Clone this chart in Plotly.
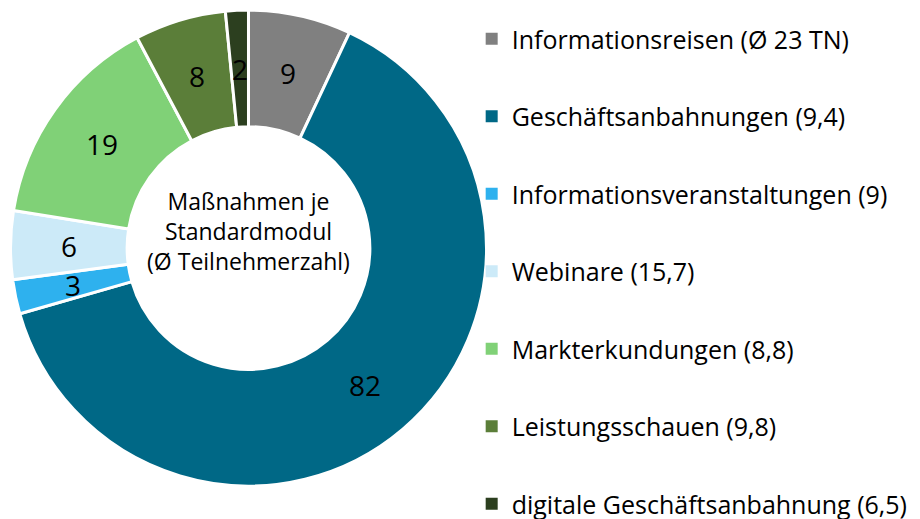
import math
import plotly.graph_objects as go

labels = [
    "Informationsreisen (Ø 23 TN)",
    "Geschäftsanbahnungen (9,4)",
    "Informationsveranstaltungen (9)",
    "Webinare (15,7)",
    "Markterkundungen (8,8)",
    "Leistungsschauen (9,8)",
    "digitale Geschäftsanbahnung (6,5)",
]
values = [9, 82, 3, 6, 19, 8, 2]
colors = ["#808080", "#006886", "#2EB1EE", "#CCEAF8", "#80D177", "#5B7E39", "#2C3F1F"]
center_text = "Maßnahmen je<br>Standardmodul<br>(Ø Teilnehmerzahl)<br> "

font_family = "Open Sans"
W, H = 920, 519
dom_x = [0.0024, 0.5204]
dom_y = [0.079, 0.996]
hole = 0.51

fig = go.Figure()

fig.add_trace(go.Pie(
    labels=labels,
    values=values,
    sort=False,
    direction="clockwise",
    rotation=0,
    hole=hole,
    textinfo="none",
    marker=dict(colors=colors, line=dict(color="white", width=3)),
    domain=dict(x=dom_x, y=dom_y),
    title=dict(text=center_text, position="middle center",
               font=dict(size=23, color="black", family=font_family)),
    showlegend=False,
))

# value labels centred in the ring (plotly pushes small-slice text outward)
cx = (dom_x[0] + dom_x[1]) / 2
cy = (dom_y[0] + dom_y[1]) / 2
r_out = min((dom_x[1] - dom_x[0]) * W, (dom_y[1] - dom_y[0]) * H) / 2
r_mid = r_out * (1 + hole) / 2
total = sum(values)
cum = 0
for v in values:
    ang = math.radians((cum + v / 2) / total * 360)
    cum += v
    fig.add_annotation(
        x=cx + r_mid * math.sin(ang) / W,
        y=cy + r_mid * math.cos(ang) / H,
        xref="paper", yref="paper", xanchor="center", yanchor="middle",
        text=str(v), showarrow=False,
        font=dict(size=28, color="black", family=font_family),
    )

# legend entries as dummy traces so the items can be spaced apart
for i, (lab, col) in enumerate(zip(labels, colors)):
    fig.add_trace(go.Scatter(
        x=[None], y=[None], mode="markers", name=lab,
        marker=dict(symbol="square", size=12, color=col),
        legendgroup=str(i), showlegend=True,
    ))

fig.update_layout(
    width=W, height=H,
    margin=dict(l=0, r=0, t=0, b=0),
    paper_bgcolor="white", plot_bgcolor="white",
    xaxis=dict(visible=False), yaxis=dict(visible=False),
    legend=dict(
        x=0.504, y=0.964, xanchor="left", yanchor="top",
        font=dict(size=25, color="black", family=font_family),
        tracegroupgap=42, itemsizing="constant",
        bgcolor="rgba(0,0,0,0)",
    ),
)

fig.write_html("out.html")
